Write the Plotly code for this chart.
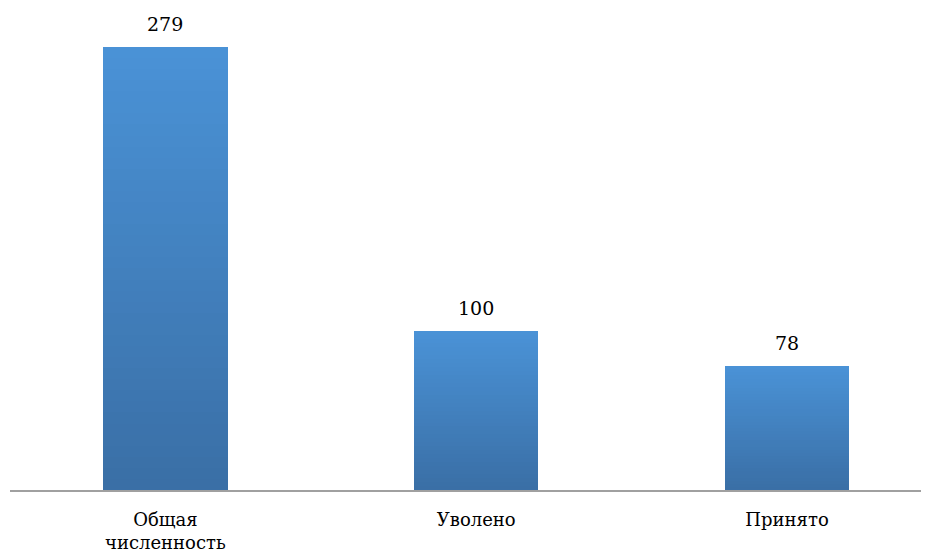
import plotly.graph_objects as go

categories = ["Общая<br>численность", "Уволено", "Принято"]
values = [279, 100, 78]

N_SEG = 40
top_rgb = (74, 146, 214)
bot_rgb = (58, 111, 166)

FONT = "DejaVu Serif"

fig = go.Figure()
for i in range(N_SEG):
    t = i / (N_SEG - 1)
    c = tuple(round(b + (tp - b) * t) for b, tp in zip(bot_rgb, top_rgb))
    fig.add_trace(go.Bar(
        x=categories,
        y=[v / N_SEG for v in values],
        marker=dict(color=f"rgb{c}", line=dict(width=0)),
        width=0.4,
        showlegend=False,
        hoverinfo="skip",
    ))

for cat, v in zip(categories, values):
    fig.add_annotation(x=cat, y=v, text=str(v), showarrow=False,
                       yanchor="bottom", yshift=10,
                       font=dict(family=FONT, size=19, color="#000"))

fig.update_layout(
    barmode="stack",
    bargap=0,
    width=921, height=548,
    margin=dict(l=2, r=8, t=6, b=66),
    paper_bgcolor="white", plot_bgcolor="white",
    xaxis=dict(range=[-0.5, 2.431], showline=True, linecolor="#A0A0A0", linewidth=2,
               showgrid=False, ticks="", ticklabelstandoff=12, automargin=False,
               tickfont=dict(family=FONT, size=18, color="#000")),
    yaxis=dict(range=[0, 299.7], visible=False, showgrid=False),
)

fig.write_html("out.html")
